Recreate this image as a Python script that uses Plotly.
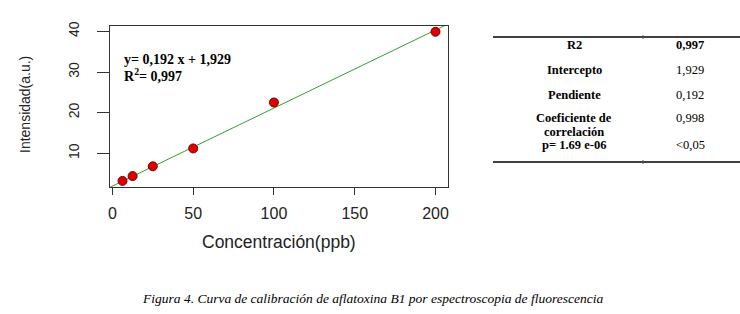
import plotly.graph_objects as go

# ---- data ----
concentracion = [6.25, 12.5, 25, 50, 100, 200]
intensidad = [3.2, 4.4, 6.8, 11.2, 22.5, 39.9]
pendiente = 0.192
intercepto = 1.929
x_ticks = [0, 50, 100, 150, 200]
y_ticks = [10, 20, 30, 40]
x_range = [-1.5, 207.75]
y_range = [1.71, 41.32]

tabla_etiquetas = ["R2", "Intercepto", "Pendiente", "Coeficiente de", "correlación", "p= 1.69 e-06"]
tabla_valores = ["0,997", "1,929", "0,192", "0,998", "", "<0,05"]

ecuacion = "y= 0,192 x + 1,929"
r2_texto = "R<sup>2</sup>= 0,997"
titulo_x = "Concentración(ppb)"
titulo_y = "Intensidad(a.u.)"
pie = "Figura 4. Curva de calibración de aflatoxina B1 por espectroscopia de fluorescencia"

# ---- layout geometry (pixels) ----
L, R, T, B = 110, 448, 26, 187
W, H = R - L, B - T


def px(x):
    return (x - L) / W


def py(y):
    return (B - y) / H


fit_x = x_range
fit_y = [pendiente * v + intercepto for v in fit_x]

fig = go.Figure()
fig.add_trace(go.Scatter(x=fit_x, y=fit_y, mode="lines",
                         line=dict(color="#2fa02f", width=1), hoverinfo="skip"))
fig.add_trace(go.Scatter(x=concentracion, y=intensidad, mode="markers",
                         marker=dict(size=9, color="#dd0000",
                                     line=dict(color="#7a0000", width=1))))

axis_font = "Liberation Sans, Arial, sans-serif"
serif = "Liberation Serif, Times New Roman, serif"

fig.update_layout(
    width=740, height=314,
    margin=dict(l=L, r=740 - R, t=T, b=314 - B),
    paper_bgcolor="white", plot_bgcolor="white",
    showlegend=False,
    xaxis=dict(range=x_range, tickvals=x_ticks, showgrid=False, zeroline=False,
               showline=True, linecolor="#333", linewidth=1, mirror=True,
               ticks="outside", ticklen=7, tickcolor="#333",
               tickfont=dict(family=axis_font, size=16, color="#222"),
               ticklabelstandoff=5),
    yaxis=dict(range=y_range, tickvals=y_ticks, showgrid=False, zeroline=False,
               showline=True, linecolor="#333", linewidth=1, mirror=True,
               ticks="outside", ticklen=12, tickcolor="#333", tickangle=-90,
               tickfont=dict(family=axis_font, size=14, color="#222"),
               ticklabelstandoff=12),
)

ann = []
# axis titles
ann.append(dict(text=titulo_x, xref="paper", yref="paper", x=px(279), y=py(242),
                xanchor="center", yanchor="middle", showarrow=False,
                font=dict(family=axis_font, size=17.5, color="#222")))
ann.append(dict(text=titulo_y, xref="paper", yref="paper", x=px(25), y=py(105),
                xanchor="center", yanchor="middle", showarrow=False, textangle=-90,
                font=dict(family=axis_font, size=14, color="#222")))
# equation
ann.append(dict(text="<b>" + ecuacion + "</b>", xref="paper", yref="paper", x=px(122), y=py(59),
                xanchor="left", yanchor="middle", showarrow=False,
                font=dict(family=serif, size=14, color="black")))
ann.append(dict(text="<b>" + r2_texto + "</b>", xref="paper", yref="paper", x=px(122), y=py(75),
                xanchor="left", yanchor="middle", showarrow=False,
                font=dict(family=serif, size=14, color="black")))

# table
filas_y = [45, 69.5, 95, 118, 132, 145]
for lab, val, yy in zip(tabla_etiquetas, tabla_valores, filas_y):
    ann.append(dict(text="<b>" + lab + "</b>", xref="paper", yref="paper", x=px(574), y=py(yy),
                    xanchor="center", yanchor="middle", showarrow=False,
                    font=dict(family=serif, size=12.5, color="black")))
    if val:
        txt = "<b>" + val + "</b>" if lab == "R2" else val
        ann.append(dict(text=txt, xref="paper", yref="paper", x=px(690), y=py(yy),
                        xanchor="center", yanchor="middle", showarrow=False,
                        font=dict(family=serif, size=12.5, color="black")))

# caption
ann.append(dict(text="<i>" + pie + "</i>", xref="paper", yref="paper", x=px(372), y=py(298),
                xanchor="center", yanchor="middle", showarrow=False,
                font=dict(family=serif, size=13.5, color="black")))

fig.update_layout(annotations=ann)

shapes = []
for yy in (37, 162):
    shapes.append(dict(type="line", xref="paper", yref="paper",
                       x0=px(493), x1=px(740), y0=py(yy), y1=py(yy),
                       line=dict(color="black", width=1.5)))
    shapes.append(dict(type="line", xref="paper", yref="paper",
                       x0=px(643), x1=px(643), y0=py(yy - 2), y1=py(yy + 2),
                       line=dict(color="#555", width=1)))
fig.update_layout(shapes=shapes)

fig.write_html("out.html", config={"displayModeBar": False},
               post_script="document.body.style.margin='0';document.body.style.overflow='hidden';")
